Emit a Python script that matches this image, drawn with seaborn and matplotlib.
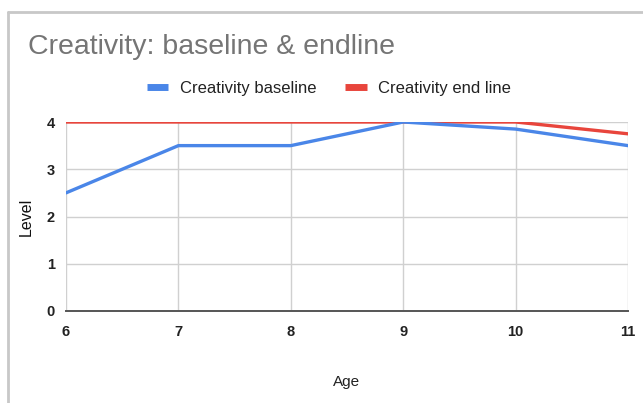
import matplotlib
matplotlib.use("Agg")
import matplotlib.pyplot as plt
import seaborn as sns
import pandas as pd
from matplotlib.lines import Line2D

ages = [6, 7, 8, 9, 10, 11]
baseline = [2.5, 3.5, 3.5, 4.0, 3.85, 3.5]
endline = [4.0, 4.0, 4.0, 4.0, 4.0, 3.75]
series_names = ["Creativity baseline", "Creativity end line"]
y_ticks = [0, 1, 2, 3, 4]

df = pd.DataFrame({
    "Age": ages * 2,
    "Level": baseline + endline,
    "Series": [series_names[0]] * len(ages) + [series_names[1]] * len(ages),
})

sns.set_theme(style="white")
plt.rcParams["font.family"] = ["Liberation Sans", "DejaVu Sans"]

fig = plt.figure(figsize=(6.43, 4.03), dpi=100)
ax = fig.add_axes([66 / 643, 1 - 311 / 403, (628 - 66) / 643, (311 - 122) / 403])

palette = {series_names[0]: "#4a86e8", series_names[1]: "#e8453c"}
sns.lineplot(data=df, x="Age", y="Level", hue="Series", hue_order=series_names[::-1],
             palette=palette, linewidth=2.4, ax=ax, legend=False, zorder=3)

ax.set_xlim(6, 11)
ax.set_ylim(0, 4)
ax.set_xticks(ages)
ax.set_yticks(y_ticks)
ax.grid(True, color="#d0d0d0", linewidth=1.0)
for s in ["top", "right", "left"]:
    ax.spines[s].set_visible(False)
ax.spines["bottom"].set_color("#555555")
ax.spines["bottom"].set_linewidth(1.4)
ax.tick_params(axis="both", length=0, labelsize=10.5, labelcolor="#222222")
ax.tick_params(axis="x", pad=10)
ax.tick_params(axis="y", pad=8)
for lbl in ax.get_xticklabels() + ax.get_yticklabels():
    lbl.set_fontweight("bold")

ax.set_xlabel("Age", fontsize=11, color="#222222", labelpad=26)
ax.set_ylabel("Level", fontsize=11.5, color="#111111", labelpad=9)

fig.text(28 / 643, 1 - 47 / 403, "Creativity: baseline & endline", fontsize=20.5,
         color="#757575", va="center", ha="left")

# legend with short thick swatches
handles = [Line2D([0], [0], color=palette[n], linewidth=5, solid_capstyle="butt")
           for n in series_names]
fig.legend(handles, series_names, loc="center", bbox_to_anchor=(329 / 643, 1 - 88 / 403),
           ncol=2, frameon=False, fontsize=12, handlelength=1.3, handletextpad=0.7,
           columnspacing=1.7, labelcolor="#222222")

# outer card frame
frame_kw = dict(color="#c8c8c8", linewidth=2.0, transform=fig.transFigure)
fig.add_artist(Line2D([8 / 643, 1.0], [1 - 12 / 403, 1 - 12 / 403], **frame_kw))
fig.add_artist(Line2D([8 / 643, 8 / 643], [0.0, 1 - 12 / 403], **frame_kw))

fig.savefig("out.png", dpi=100)
